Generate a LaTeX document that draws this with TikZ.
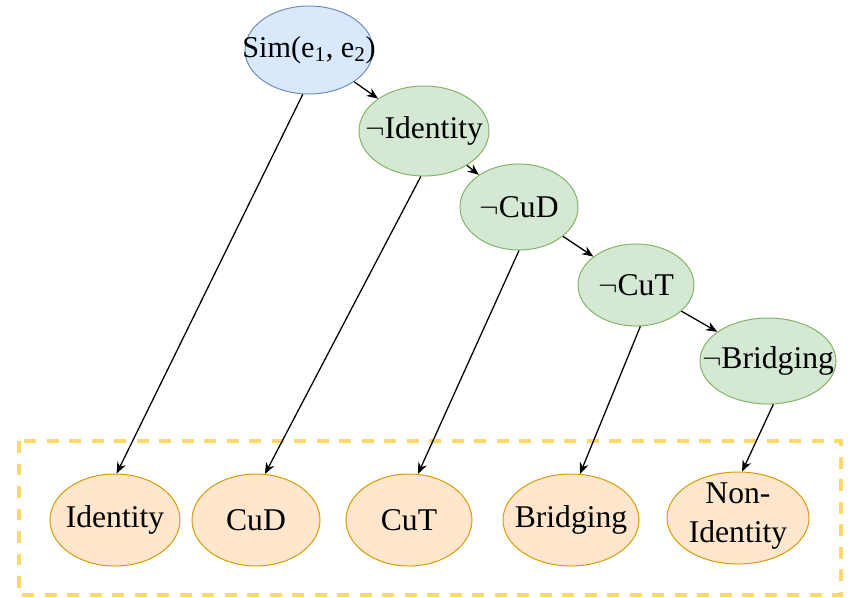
\documentclass[tikz,border=0pt]{standalone}
\usepackage{fontspec}
\setmainfont{Liberation Serif}
\usetikzlibrary{shapes.geometric, arrows.meta}
\definecolor{simfill}{HTML}{DAE8FC}
\definecolor{simline}{HTML}{6C8EBF}
\definecolor{notfill}{HTML}{D5E8D4}
\definecolor{notline}{HTML}{82B366}
\definecolor{clsfill}{HTML}{FFE6CC}
\definecolor{clsline}{HTML}{D79B00}
\definecolor{boxline}{HTML}{FFD966}
\newcommand{\ctext}[1]{\makebox[0pt]{#1}}
\tikzset{
  oval/.style={ellipse, inner sep=0pt, line width=0.7pt, font=\fontsize{22.5}{27}\selectfont},
  simoval/.style={oval, fill=simfill, draw=simline},
  notoval/.style={oval, fill=notfill, draw=notline},
  clsoval/.style={oval, fill=clsfill, draw=clsline, minimum width=3.25cm, minimum height=2.3cm},
  link/.style={-{Stealth[length=8pt,width=6.5pt]}, line width=0.9pt, black}
}
\begin{document}
\begin{tikzpicture}[x=0.025cm,y=-0.025cm]
\useasboundingbox (0,0) rectangle (848,598);
% candidate box
\draw[boxline, line width=2.8pt, dash pattern=on 8.5pt off 7.5pt] (19,441) rectangle (841,595);

% top chain
\node[simoval, minimum width=3.2cm, minimum height=2.2cm] (sim) at (309,50) {\ctext{\fontsize{21.5}{26}\selectfont Sim(e\textsubscript{1}, e\textsubscript{2})}};
\node[notoval, minimum width=3.25cm, minimum height=2.25cm] (nidt) at (424,131) {\ctext{$\neg$Identity}};
\node[notoval, minimum width=2.95cm, minimum height=2.15cm] (ncud) at (519,207) {\ctext{$\neg$CuD}};
\node[notoval, minimum width=2.9cm, minimum height=2.05cm] (ncut) at (636,285) {\ctext{$\neg$CuT}};
\node[notoval, minimum width=3.4cm, minimum height=2.15cm] (nbrg) at (768,361) {\ctext{$\neg$Bridging}};

% classes
\node[clsoval] (idt) at (115,520) {\ctext{Identity}};
\node[clsoval, minimum width=3.2cm] (cud) at (256,520) {\ctext{CuD}};
\node[clsoval, minimum width=3.15cm] (cut) at (409,520) {\ctext{CuT}};
\node[clsoval, minimum width=3.4cm] (brg) at (571,520) {\ctext{Bridging}};
\node[clsoval, minimum width=3.55cm] (nonid) at (738,518) {\ctext{\raisebox{-7pt}{\smash{\begin{tabular}{@{}c@{}}Non-\\[1pt]Identity\end{tabular}}}}};

\draw[link] (sim) -- (nidt);
\draw[link] (nidt) -- (ncud);
\draw[link] (ncud) -- (ncut);
\draw[link] (ncut) -- (nbrg);

\draw[link] (sim.262) -- (idt.88);
\draw[link] (nidt.266) -- (cud.79);
\draw[link] (ncud.270) -- (cut.79);
\draw[link] (ncut.276) -- (brg.79);
\draw[link] (nbrg.277) -- (nonid.85);

\end{tikzpicture}
\end{document}
